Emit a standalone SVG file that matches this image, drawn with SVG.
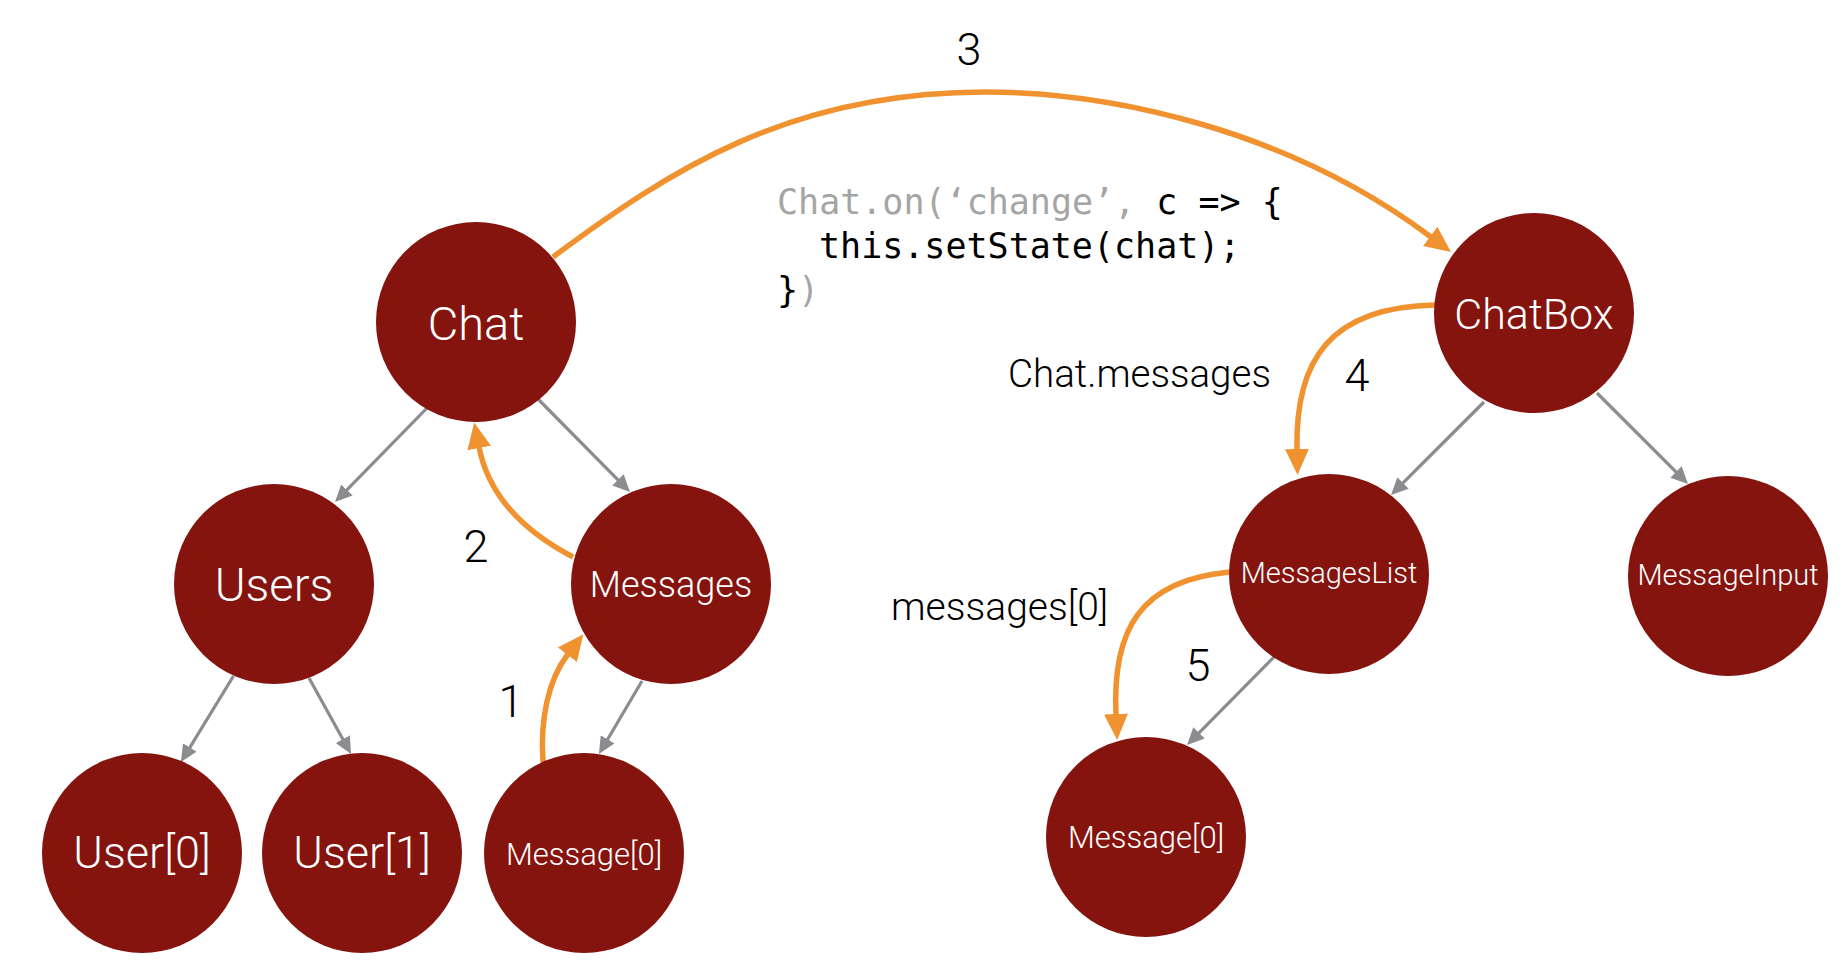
<svg xmlns="http://www.w3.org/2000/svg" width="1844" height="970" viewBox="0 0 1844 970">
<style>
.node circle{fill:#85130e}
.nl{font-family:Roboto,"Liberation Sans",sans-serif;font-weight:300;fill:#ffffff;text-anchor:middle}
.lbl{font-family:Roboto,"Liberation Sans",sans-serif;font-weight:300;fill:#000000}
.num{font-family:Roboto,"Liberation Sans",sans-serif;font-weight:300;fill:#000000;font-size:45px;text-anchor:middle}
.code{font-family:"DejaVu Sans Mono","Liberation Mono",monospace;font-size:35px;fill:#000000}
.gr{fill:#a5a5a5}
.g{fill:none;stroke:#8a8c90;stroke-width:3.2;marker-end:url(#ag)}
.o{fill:none;stroke:#f0922f;stroke-width:5.5;marker-end:url(#ao)}
</style>
<defs>
<marker id="ag" markerUnits="userSpaceOnUse" markerWidth="18" markerHeight="16" viewBox="0 -8 18 16" refX="1" refY="0" orient="auto"><path d="M0,-8 L17,0 L0,8 z" fill="#8a8c90"/></marker>
<marker id="ao" markerUnits="userSpaceOnUse" markerWidth="28" markerHeight="26" viewBox="0 -13 28 26" refX="1" refY="0" orient="auto"><path d="M0,-12 L26,0 L0,12 z" fill="#f0922f"/></marker>
</defs>
<rect width="1844" height="970" fill="#ffffff"/>

<g id="connectors">
<path class="g" d="M428,407 L346.2,490.6"/>
<path class="g" d="M537,398 L618.7,480.6"/>
<path class="g" d="M233.5,676 L189.3,748.3"/>
<path class="g" d="M309,678 L343.3,740"/>
<path class="g" d="M642,681 L607.1,740.2"/>
<path class="g" d="M1484,402 L1402.3,483.7"/>
<path class="g" d="M1597,393 L1676.7,472.7"/>
<path class="g" d="M1274,657 L1198.3,733.6"/>
<path class="o" d="M553,257 C670,170 790,92 985,92 C1110,92 1287,129 1431,237"/>
<path class="o" d="M573,557 C527,533 489,498 479,447"/>
<path class="o" d="M543,762 C540,720 548,680 568,654"/>
<path class="o" d="M1435,305 C1330,307 1295,360 1297,450"/>
<path class="o" d="M1230,572 C1140,580 1112,630 1116,715"/>
</g>

<g id="labels">
<text class="num" x="969" y="65">3</text>
<text class="num" x="476" y="562">2</text>
<text class="num" x="511" y="717">1</text>
<text class="num" x="1357" y="391">4</text>
<text class="num" x="1198" y="681">5</text>
<text class="lbl" x="1008" y="387" font-size="38.5">Chat.messages</text>
<text class="lbl" x="891" y="620" font-size="39">messages[0]</text>
</g>

<g id="code">
<text class="code" x="777" y="214"><tspan class="gr">Chat.on(‘change’,</tspan> c =&gt; {</text>
<text class="code" x="819" y="258">this.setState(chat);</text>
<text class="code" x="777" y="302">}<tspan class="gr">)</tspan></text>
</g>

<g id="node-chat" class="node"><circle cx="476" cy="322" r="100"/><text class="nl" x="476" y="340" font-size="47">Chat</text></g>
<g id="node-users" class="node"><circle cx="274" cy="584" r="100"/><text class="nl" x="274" y="601" font-size="47">Users</text></g>
<g id="node-messages" class="node"><circle cx="671" cy="584" r="100"/><text class="nl" x="671" y="597" font-size="36">Messages</text></g>
<g id="node-user0" class="node"><circle cx="142" cy="853" r="100"/><text class="nl" x="142" y="868" font-size="45">User[0]</text></g>
<g id="node-user1" class="node"><circle cx="362" cy="853" r="100"/><text class="nl" x="362" y="868" font-size="45">User[1]</text></g>
<g id="node-message0-left" class="node"><circle cx="584" cy="853" r="100"/><text class="nl" x="584" y="865" font-size="31">Message[0]</text></g>
<g id="node-chatbox" class="node"><circle cx="1534" cy="313" r="100"/><text class="nl" x="1534" y="329" font-size="43">ChatBox</text></g>
<g id="node-messageslist" class="node"><circle cx="1329" cy="574" r="100"/><text class="nl" x="1329" y="583" font-size="29">MessagesList</text></g>
<g id="node-messageinput" class="node"><circle cx="1728" cy="576" r="100"/><text class="nl" x="1728" y="585" font-size="29">MessageInput</text></g>
<g id="node-message0-right" class="node"><circle cx="1146" cy="837" r="100"/><text class="nl" x="1146" y="848" font-size="31">Message[0]</text></g>
</svg>
